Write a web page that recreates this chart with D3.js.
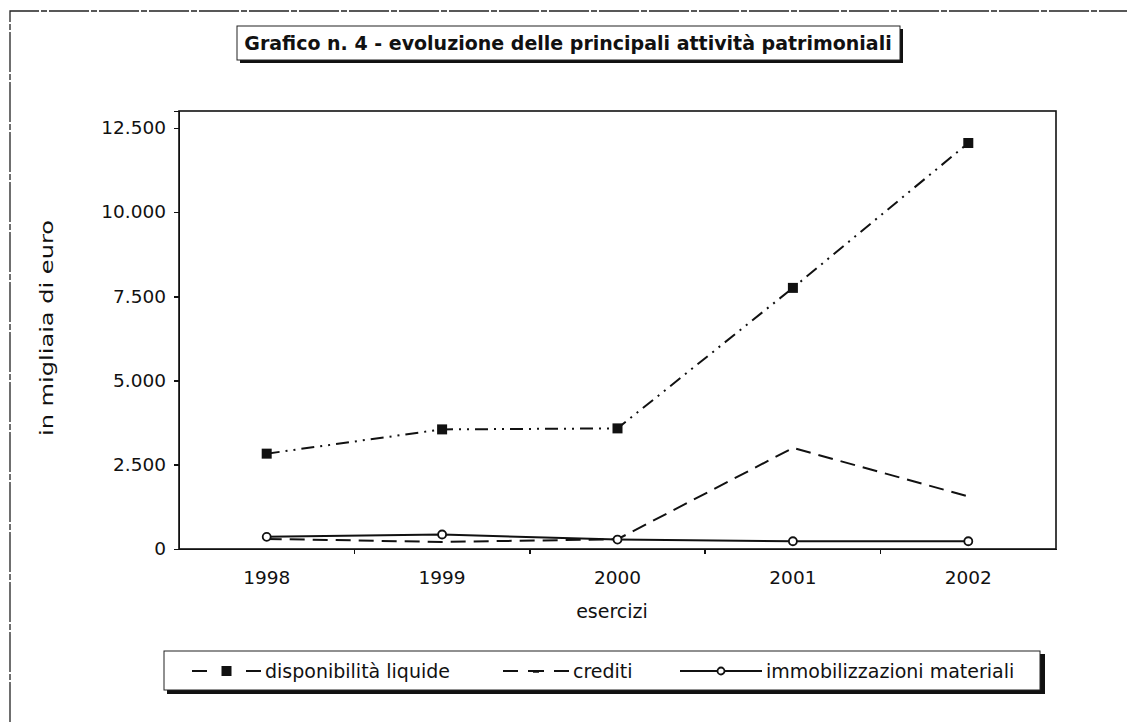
<!DOCTYPE html>
<html lang="it">
<head>
<meta charset="utf-8">
<script src="https://cdnjs.cloudflare.com/ajax/libs/d3/7.8.5/d3.min.js"></script>
<style>
body { margin: 0; background: #fff; }
svg text { font-family: "DejaVu Sans", Verdana, sans-serif; fill: #111; }
.axis path, .axis line { stroke: #111; stroke-width: 1.6; shape-rendering: crispEdges; }
.axis text { font-size: 18.5px; }
</style>
</head>
<body>
<svg id="chart" width="1127" height="722"></svg>
<script>
var years = ["1998", "1999", "2000", "2001", "2002"];
var disponibilita = [2830, 3550, 3580, 7750, 12050];
var crediti = [300, 210, 290, 3000, 1560];
var immobilizzazioni = [360, 430, 280, 230, 230];
var yTicks = [0, 2500, 5000, 7500, 10000, 12500];

var series = [
  {name: "disponibilità liquide", values: disponibilita, dash: "13,6,2,6,2,6", marker: "square"},
  {name: "crediti", values: crediti, dash: "15,8", marker: "none"},
  {name: "immobilizzazioni materiali", values: immobilizzazioni, dash: null, marker: "circle"}
];

var svg = d3.select("#chart");
var plot = {left: 179, right: 1056, top: 111, bottom: 549};

var it = d3.formatLocale({decimal: ",", thousands: ".", grouping: [3], currency: ["", "€"]});
var fmt = it.format(",");

var x = d3.scaleBand().domain(years).range([plot.left, plot.right]);
var y = d3.scaleLinear().domain([0, 13000]).range([plot.bottom, plot.top]);

// outer frame (left and top only visible)
svg.append("path")
    .attr("d", "M10,722 L10,11 L1127,11")
    .attr("fill", "none").attr("stroke", "#222").attr("stroke-width", 1.3)
    .attr("stroke-dasharray", "40,2,6,2");

// title box with shadow
svg.append("rect").attr("x", 240).attr("y", 29).attr("width", 663).attr("height", 34).attr("fill", "#111");
svg.append("rect").attr("x", 237).attr("y", 26).attr("width", 663).attr("height", 34)
    .attr("fill", "#fff").attr("stroke", "#222").attr("stroke-width", 1);
svg.append("text").attr("x", 568).attr("y", 50).attr("text-anchor", "middle")
    .style("font-size", "19px").style("font-weight", "bold")
    .text("Grafico n. 4 - evoluzione delle principali attività patrimoniali");

// plot border
svg.append("rect").attr("x", plot.left).attr("y", plot.top)
    .attr("width", plot.right - plot.left).attr("height", plot.bottom - plot.top)
    .attr("fill", "none").attr("stroke", "#111").attr("stroke-width", 1.6);

// axes
svg.append("g").attr("class", "axis")
    .attr("transform", "translate(" + plot.left + ",0)")
    .call(d3.axisLeft(y).tickValues(yTicks).tickFormat(fmt).tickSize(5).tickPadding(8));

var xAxis = svg.append("g").attr("class", "axis")
    .attr("transform", "translate(0," + plot.bottom + ")")
    .call(d3.axisBottom(x).tickSize(0).tickPadding(22));
xAxis.selectAll(".sep").data(years.slice(1)).enter().append("line")
    .attr("class", "sep")
    .attr("x1", function(d) { return x(d); }).attr("x2", function(d) { return x(d); })
    .attr("y1", 0).attr("y2", 5);

svg.append("text").attr("x", 612).attr("y", 618).attr("text-anchor", "middle")
    .style("font-size", "19px").text("esercizi");
svg.append("text").attr("transform", "translate(53,328) rotate(-90)")
    .attr("text-anchor", "middle").style("font-size", "18px")
    .attr("textLength", 216).attr("lengthAdjust", "spacingAndGlyphs")
    .text("in migliaia di euro");

// lines
var line = d3.line()
    .x(function(d, i) { return x(years[i]) + x.bandwidth() / 2; })
    .y(function(d) { return y(d); });

series.forEach(function(s) {
  svg.append("path").datum(s.values)
      .attr("d", line).attr("fill", "none").attr("stroke", "#111").attr("stroke-width", 2)
      .attr("stroke-dasharray", s.dash);
  if (s.marker === "square") {
    svg.selectAll(null).data(s.values).enter().append("rect")
        .attr("x", function(d, i) { return x(years[i]) + x.bandwidth() / 2 - 5; })
        .attr("y", function(d) { return y(d) - 5; })
        .attr("width", 10).attr("height", 10).attr("fill", "#111");
  } else if (s.marker === "circle") {
    svg.selectAll(null).data(s.values).enter().append("circle")
        .attr("cx", function(d, i) { return x(years[i]) + x.bandwidth() / 2; })
        .attr("cy", function(d) { return y(d); })
        .attr("r", 4).attr("fill", "#fff").attr("stroke", "#111").attr("stroke-width", 1.8);
  }
});

// legend
svg.append("rect").attr("x", 167).attr("y", 654).attr("width", 878).attr("height", 40).attr("fill", "#111");
svg.append("rect").attr("x", 164).attr("y", 651).attr("width", 876).attr("height", 39)
    .attr("fill", "#fff").attr("stroke", "#222").attr("stroke-width", 1);

var legendX = [192, 503, 680];
var legendW = [69, 66, 82];
var legendDash = ["15,39,15", "15,10,16,10,15", null];
var lg = svg.selectAll(".lg").data(series).enter().append("g")
    .attr("class", "lg")
    .attr("transform", function(d, i) { return "translate(" + legendX[i] + ",671)"; });
lg.append("line")
    .attr("x1", 0).attr("x2", function(d, i) { return legendW[i]; })
    .attr("y1", 0).attr("y2", 0)
    .attr("stroke", "#111").attr("stroke-width", 2)
    .attr("stroke-dasharray", function(d, i) { return legendDash[i]; });
lg.each(function(d, i) {
  var g = d3.select(this), mid = legendW[i] / 2;
  if (d.marker === "square") {
    g.append("rect").attr("x", mid - 5).attr("y", -5).attr("width", 10).attr("height", 10).attr("fill", "#111");
  } else if (d.marker === "circle") {
    g.append("circle").attr("cx", mid).attr("cy", 0).attr("r", 3.5)
        .attr("fill", "#fff").attr("stroke", "#111").attr("stroke-width", 1.8);
  } else {
    g.append("line").attr("x1", mid - 3).attr("x2", mid + 3).attr("y1", 1).attr("y2", 1)
        .attr("stroke", "#111").attr("stroke-width", 1.5);
  }
});
lg.append("text")
    .attr("x", function(d, i) { return legendW[i] + 4; })
    .attr("y", 7).style("font-size", "19px")
    .text(function(d) { return d.name; });
</script>
</body>
</html>
